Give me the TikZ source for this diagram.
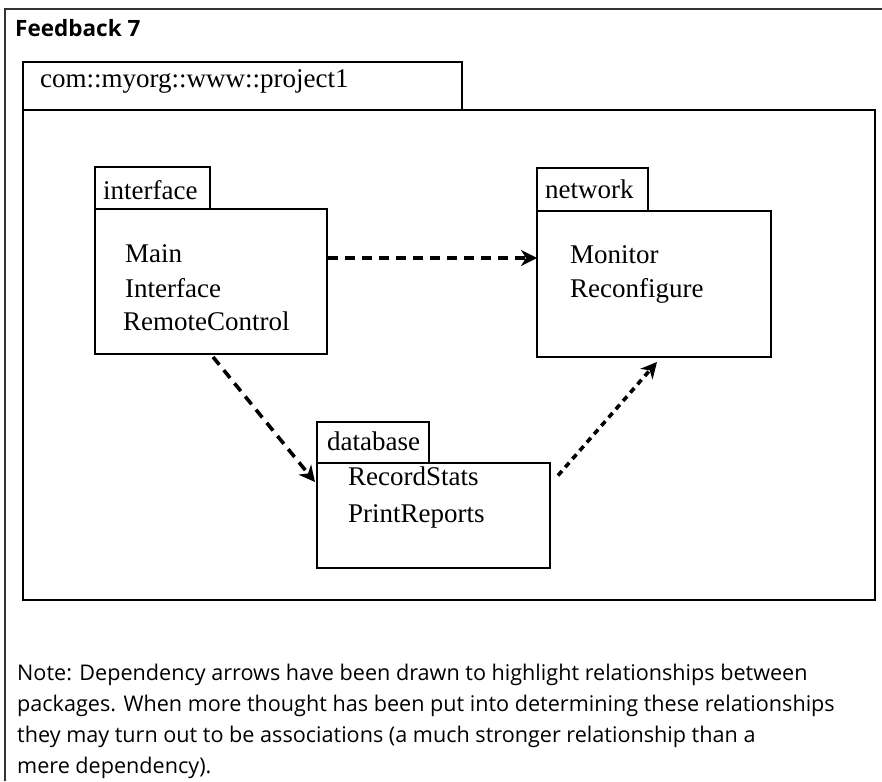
\documentclass[tikz,border=0pt]{standalone}
\usepackage{fontspec}
\setmainfont{Liberation Serif}
\newfontfamily\notefont{Open Sans}
\usetikzlibrary{arrows.meta}
\begin{document}
\begin{tikzpicture}[x=1pt,y=-1pt,
  box/.style={draw=black, line width=1.3pt, anchor=north west, inner sep=0pt, outer sep=0pt},
  lbl/.style={anchor=base west, inner sep=0pt, font=\fontsize{27}{30}\selectfont},
  notel/.style={anchor=base west, inner sep=0pt, font=\notefont\fontsize{21.6}{24}\selectfont},
  dep/.style={line width=3.6pt, -{Stealth[length=16pt,width=16pt,inset=5pt]}},
  dashA/.style={dash pattern=on 10pt off 7pt},
  dashB/.style={dash pattern=on 6pt off 5pt}]
\useasboundingbox (0,0) rectangle (882,781);
% outer frame
\draw[line width=1.3pt, draw=black!80] (5,781) -- (5,9) -- (882,9);
\node[anchor=base west, inner sep=0pt, font=\notefont\bfseries\fontsize{22.5}{26}\selectfont] (title) at (15,37) {Feedback 7};
% top package
\node[box, minimum width=439pt, minimum height=48pt] (ptab) at (23,62) {};
\node[lbl] (pname) at (40,88) {com::myorg::www::project1};
\node[box, minimum width=852pt, minimum height=490pt] (pbody) at (23,110) {};
% interface
\node[box, minimum width=115pt, minimum height=42pt] (iftab) at (95,167) {};
\node[lbl] (ifname) at (103,199) {interface};
\node[box, minimum width=232pt, minimum height=145pt] (ifbody) at (95,209) {};
\node[lbl] (if1) at (125,262) {Main};
\node[lbl] (if2) at (125,297) {Interface};
\node[lbl] (if3) at (123,330) {RemoteControl};
% network
\node[box, minimum width=111pt, minimum height=43pt] (nettab) at (537,168) {};
\node[lbl] (netname) at (545,198) {network};
\node[box, minimum width=234pt, minimum height=146pt] (netbody) at (537,211) {};
\node[lbl] (net1) at (570,263) {Monitor};
\node[lbl] (net2) at (570,297) {Reconfigure};
% database
\node[box, minimum width=112pt, minimum height=41pt] (dbtab) at (317,422) {};
\node[lbl] (dbname) at (327,450) {database};
\node[box, minimum width=233pt, minimum height=105pt] (dbbody) at (317,463) {};
\node[lbl] (db1) at (348,485) {RecordStats};
\node[lbl] (db2) at (348,522) {PrintReports};
% dependencies
\draw[dep, dashA] ([xshift=1pt,yshift=23.5pt]ifbody.east) -- ([yshift=26pt]netbody.west);
\draw[dep, dashA] ([xshift=2pt,yshift=-3pt]ifbody.south) -- ([xshift=-2pt,yshift=33.5pt]dbbody.west);
\draw[dep, dashB] ([xshift=8pt,yshift=40pt]dbbody.east) -- ([xshift=3pt,yshift=-5pt]netbody.south);
% note
\node[notel] (n1) at (17,680) {Note: Dependency arrows have been drawn to highlight relationships between};
\node[notel] (n2) at (17,711) {packages. When more thought has been put into determining these relationships};
\node[notel] (n3) at (17,742) {they may turn out to be associations (a much stronger relationship than a};
\node[notel] (n4) at (17,773) {mere dependency).};
\end{tikzpicture}
\end{document}
